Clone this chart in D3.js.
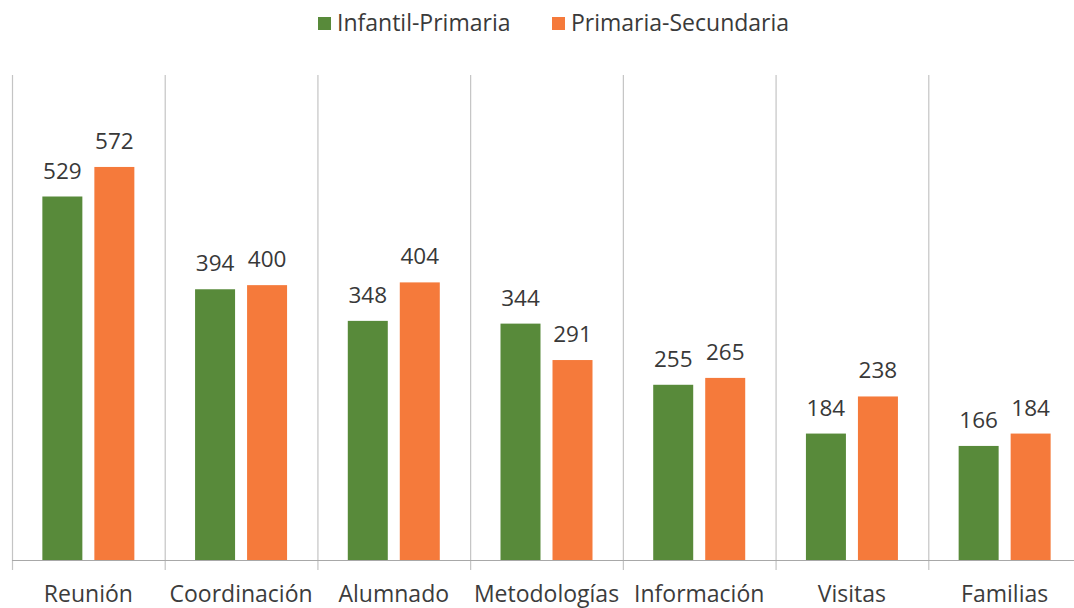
<!DOCTYPE html>
<html>
<head>
<meta charset="utf-8">
<script src="https://cdn.jsdelivr.net/npm/d3@7"></script>
<style>
  html, body { margin: 0; padding: 0; background: #fff; }
  svg { display: block; font-family: "Open Sans", "Noto Sans", sans-serif; }
</style>
</head>
<body>
<svg id="chart" width="1074" height="608"></svg>
<script>
// Categories and series values
const categories = ["Reunión", "Coordinación", "Alumnado", "Metodologías", "Información", "Visitas", "Familias"];
const seriesNames = ["Infantil-Primaria", "Primaria-Secundaria"];
const infantilPrimaria = [529, 394, 348, 344, 255, 184, 166];
const primariaSecundaria = [572, 400, 404, 291, 265, 238, 184];
const seriesColors = ["#588a3a", "#f57a3b"];

const values = [infantilPrimaria, primariaSecundaria];
const rows = categories.map((c, i) => ({ cat: c, vals: values.map(v => v[i]) }));

const svg = d3.select("#chart");
const left = 12, right = 1081, baseY = 560, topY = 79;

const x0 = d3.scaleBand().domain(categories).range([left, right]).paddingInner(0).paddingOuter(0);
const groupW = 92;
const inset = (x0.bandwidth() - groupW) / 2;
const x1 = d3.scaleBand().domain(seriesNames).range([inset, inset + groupW]).paddingInner(0.2308).paddingOuter(0);
const y = d3.scaleLinear().domain([0, 700]).range([baseY, topY]);

// Vertical separators between categories (and left axis line)
const seps = categories.map(c => x0(c));
svg.append("g").selectAll("line").data(seps).join("line")
  .attr("x1", d => d + 0.5).attr("x2", d => d + 0.5)
  .attr("y1", topY - 4).attr("y2", baseY + 10)
  .attr("stroke", "#c4c4c4").attr("stroke-width", 1.2);

// Bars
const groups = svg.append("g").selectAll("g").data(rows).join("g")
  .attr("transform", d => `translate(${x0(d.cat)},0)`);

groups.selectAll("rect").data(d => d.vals.map((v, i) => ({ s: seriesNames[i], v, i })))
  .join("rect")
  .attr("x", d => x1(d.s))
  .attr("width", x1.bandwidth())
  .attr("y", d => y(d.v))
  .attr("height", d => y(0) - y(d.v))
  .attr("fill", d => seriesColors[d.i]);

// Value labels
groups.selectAll("text").data(d => d.vals.map((v, i) => ({ s: seriesNames[i], v, i })))
  .join("text")
  .attr("x", d => x1(d.s) + x1.bandwidth() / 2)
  .attr("y", d => y(d.v) - 18)
  .attr("text-anchor", "middle")
  .attr("font-size", 22.5)
  .attr("fill", "#383838")
  .text(d => d.v);

// Baseline
svg.append("line")
  .attr("x1", left).attr("x2", 1074)
  .attr("y1", baseY + 0.5).attr("y2", baseY + 0.5)
  .attr("stroke", "#a8a8a8").attr("stroke-width", 1.2);

// Category labels
svg.append("g").selectAll("text").data(categories).join("text")
  .attr("x", c => x0(c) + x0.bandwidth() / 2)
  .attr("y", 602)
  .attr("text-anchor", "middle")
  .attr("font-size", 23)
  .attr("fill", "#3c3c3c")
  .text(c => c);

// Legend
const legendItems = [
  { name: seriesNames[0], color: seriesColors[0], x: 318 },
  { name: seriesNames[1], color: seriesColors[1], x: 552 }
];
const lg = svg.append("g").selectAll("g").data(legendItems).join("g")
  .attr("transform", d => `translate(${d.x},0)`);
lg.append("rect").attr("x", 0).attr("y", 17).attr("width", 13).attr("height", 13)
  .attr("fill", d => d.color);
lg.append("text").attr("x", 19).attr("y", 31)
  .attr("font-size", 23).attr("fill", "#3a3a3a")
  .text(d => d.name);
</script>
</body>
</html>
